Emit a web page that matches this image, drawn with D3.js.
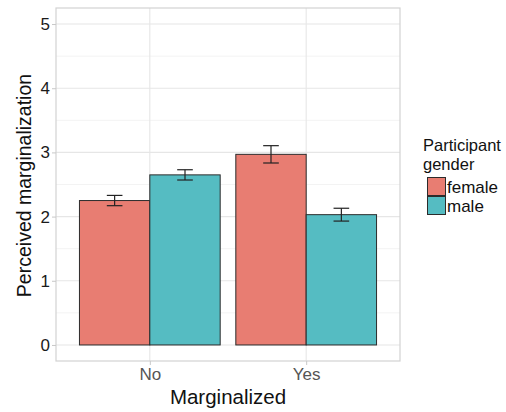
<!DOCTYPE html>
<html>
<head>
<meta charset="utf-8">
<script src="https://cdn.jsdelivr.net/npm/d3@7"></script>
<style>
  html, body { margin: 0; padding: 0; background: #fff; }
  svg { display: block; font-family: "Liberation Sans", Arial, Helvetica, sans-serif; }
</style>
</head>
<body>
<svg id="chart" width="506" height="412"></svg>
<script>
// Categories and series
const groups = ["No", "Yes"];
const genders = ["female", "male"];
const meanValues = {
  female: [2.25, 2.97],
  male:   [2.65, 2.03]
};
const seValues = {
  female: [0.08, 0.135],
  male:   [0.08, 0.10]
};
const yTicks = [0, 1, 2, 3, 4, 5];
const fillColors = ["#E87D72", "#55BCC2"];

const rows = [];
groups.forEach((g, gi) => {
  genders.forEach(s => {
    rows.push({ group: g, gender: s, mean: meanValues[s][gi], se: seValues[s][gi] });
  });
});

const svg = d3.select("#chart");
const panel = { left: 56, top: 8, right: 400, bottom: 361 };

// Discrete x axis with 0.6 expansion on each side
const xLin = d3.scaleLinear().domain([0.4, 2.6]).range([panel.left, panel.right]);
const xCenter = g => xLin(groups.indexOf(g) + 1);
const unit = xLin(1) - xLin(0);
const dodge = d3.scaleBand().domain(genders).range([-0.45, 0.45]);

const y = d3.scaleLinear().domain([-0.25, 5.25]).range([panel.bottom, panel.top]);
const color = d3.scaleOrdinal().domain(genders).range(fillColors);

// Minor grid lines
const minorY = d3.range(0.5, 5, 1);
svg.append("g").selectAll("line").data(minorY).join("line")
  .attr("x1", panel.left).attr("x2", panel.right)
  .attr("y1", d => y(d)).attr("y2", d => y(d))
  .attr("stroke", "#F3F3F3").attr("stroke-width", 1);

// Major grid lines
svg.append("g").selectAll("line").data(yTicks).join("line")
  .attr("x1", panel.left).attr("x2", panel.right)
  .attr("y1", d => y(d)).attr("y2", d => y(d))
  .attr("stroke", "#E6E6E6").attr("stroke-width", 1.1);
svg.append("g").selectAll("line").data(groups).join("line")
  .attr("x1", d => xCenter(d)).attr("x2", d => xCenter(d))
  .attr("y1", panel.top).attr("y2", panel.bottom)
  .attr("stroke", "#E6E6E6").attr("stroke-width", 1.1);

// Bars
svg.append("g").selectAll("rect").data(rows).join("rect")
  .attr("x", d => xCenter(d.group) + dodge(d.gender) * unit)
  .attr("width", dodge.bandwidth() * unit)
  .attr("y", d => y(d.mean))
  .attr("height", d => y(0) - y(d.mean))
  .attr("fill", d => color(d.gender))
  .attr("stroke", "#2b2b2b").attr("stroke-width", 1);

// Error bars
const capHalf = 0.05 * unit;
const eb = svg.append("g").attr("stroke", "#222").attr("stroke-width", 1.2).attr("fill", "none");
rows.forEach(d => {
  const cx = xCenter(d.group) + (dodge(d.gender) + dodge.bandwidth() / 2) * unit;
  const y1 = y(d.mean + d.se), y0 = y(d.mean - d.se);
  eb.append("line").attr("x1", cx).attr("x2", cx).attr("y1", y1).attr("y2", y0);
  eb.append("line").attr("x1", cx - capHalf).attr("x2", cx + capHalf).attr("y1", y1).attr("y2", y1);
  eb.append("line").attr("x1", cx - capHalf).attr("x2", cx + capHalf).attr("y1", y0).attr("y2", y0);
});

// Panel border
svg.append("rect")
  .attr("x", panel.left).attr("y", panel.top)
  .attr("width", panel.right - panel.left).attr("height", panel.bottom - panel.top)
  .attr("fill", "none").attr("stroke", "#D2D2D2").attr("stroke-width", 1.2);

// Y axis
const yAxis = svg.append("g").attr("transform", `translate(${panel.left},0)`)
  .call(d3.axisLeft(y).tickValues(yTicks).tickFormat(d3.format("d")).tickSize(4).tickPadding(2));
yAxis.select(".domain").remove();
yAxis.selectAll(".tick line").attr("stroke", "#C8C8C8");
yAxis.selectAll(".tick text").attr("font-size", 17).attr("fill", "#1a1a1a")
  .attr("font-family", "Liberation Sans, Arial, sans-serif");

// X axis
const xAxis = svg.append("g").attr("transform", `translate(0,${panel.bottom})`)
  .call(d3.axisBottom(d3.scaleOrdinal().domain(groups).range(groups.map(xCenter)))
    .tickSize(4).tickPadding(3));
xAxis.select(".domain").remove();
xAxis.selectAll(".tick line").attr("stroke", "#C8C8C8");
xAxis.selectAll(".tick text").attr("font-size", 17).attr("fill", "#555")
  .attr("font-family", "Liberation Sans, Arial, sans-serif");

// Axis titles
svg.append("text")
  .attr("x", (panel.left + panel.right) / 2).attr("y", 404)
  .attr("text-anchor", "middle").attr("font-size", 20.5).attr("fill", "#111")
  .text("Marginalized");
svg.append("text")
  .attr("transform", `translate(31,${(75 + 296) / 2}) rotate(-90)`)
  .attr("text-anchor", "middle").attr("font-size", 19.5).attr("fill", "#111")
  .text("Perceived marginalization");

// Legend
const legend = svg.append("g");
legend.append("text").attr("x", 423).attr("y", 151).attr("font-size", 16.5).attr("fill", "#111").text("Participant");
legend.append("text").attr("x", 423).attr("y", 170).attr("font-size", 16.5).attr("fill", "#111").text("gender");
const keys = legend.selectAll("g.key").data(genders).join("g").attr("class", "key")
  .attr("transform", (d, i) => `translate(427,${177 + i * 19})`);
keys.append("rect").attr("x", 0.5).attr("y", 0.5).attr("width", 18).attr("height", 18)
  .attr("fill", d => color(d)).attr("stroke", "#2b2b2b").attr("stroke-width", 1);
keys.append("text").attr("x", 20).attr("y", 16).attr("font-size", 17).attr("fill", "#111").text(d => d);
</script>
</body>
</html>
